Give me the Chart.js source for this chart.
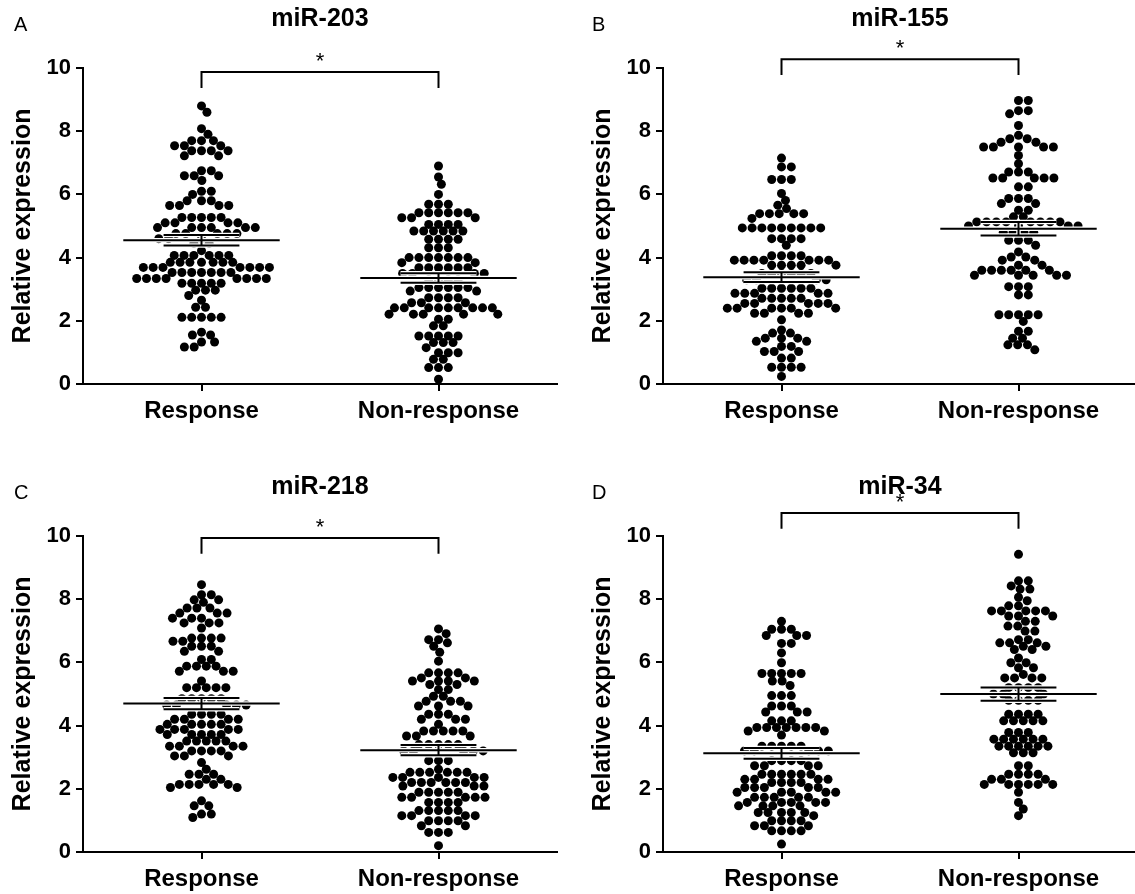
<!DOCTYPE html>
<html>
<head>
<meta charset="utf-8">
<script src="https://cdn.jsdelivr.net/npm/chart.js@4.4.0/dist/chart.umd.min.js"></script>
<style>
  body { margin: 0; background: #fff; width: 1135px; height: 894px; position: relative; overflow: hidden; font-family: Arial, "Liberation Sans", sans-serif; }
  .panel { position: absolute; width: 568px; height: 426px; }
  .tag { position: absolute; font-size: 20px; line-height: 20px; color: #000; }
</style>
</head>
<body>
<div class="panel" style="left:0;top:0"><canvas id="chart-a"></canvas></div>
<div class="panel" style="left:580px;top:0"><canvas id="chart-b"></canvas></div>
<div class="panel" style="left:0;top:468px"><canvas id="chart-c"></canvas></div>
<div class="panel" style="left:580px;top:468px"><canvas id="chart-d"></canvas></div>
<div class="tag" style="left:14px;top:14px">A</div>
<div class="tag" style="left:592px;top:14px">B</div>
<div class="tag" style="left:14px;top:482px">C</div>
<div class="tag" style="left:592px;top:482px">D</div>
<script>
const groupNames = ['Response', 'Non-response'];
const panelTitles = ['miR-203', 'miR-155', 'miR-218', 'miR-34'];
const sigLevels = [9.87, 10.28, 9.94, 10.73];
const sigMarks = ['*', '*', '*', '*'];

// relative expression per patient
const mir203Response = [8.8, 8.6, 8.08, 7.9, 7.7, 7.7, 7.7, 7.54, 7.54, 7.54, 7.38, 7.38, 7.38, 7.38, 7.22, 7.22,
  6.75, 6.75, 6.59, 6.59, 6.59, 6.44, 6.1, 6.1, 6.0, 5.8, 5.8, 5.8, 5.65, 5.65, 5.65, 5.65,
  5.27, 5.27, 5.27, 5.27, 5.27, 5.1, 5.1, 5.1, 5.1, 4.95, 4.95, 4.95, 4.95, 4.95, 4.95,
  4.76, 4.76, 4.76, 4.76, 4.76, 4.6, 4.6, 4.6, 4.45, 4.45, 4.22,
  4.07, 4.07, 4.07, 4.07, 4.07, 4.07, 3.85, 3.85, 3.85, 3.85, 3.85, 3.85, 3.85,
  3.69, 3.69, 3.69, 3.69, 3.69, 3.69, 3.69, 3.53, 3.53, 3.53, 3.53, 3.53, 3.53, 3.53,
  3.34, 3.34, 3.34, 3.34, 3.34, 3.34, 3.34, 3.34, 3.19, 3.19, 3.19, 3.19, 3.19,
  2.97, 2.97, 2.97, 2.8, 2.65, 2.43, 2.43, 2.11, 2.11, 2.11, 2.11, 2.11, 1.64, 1.55, 1.55, 1.33, 1.33, 1.17, 1.17];
const mir203NonResponse = [6.9, 6.55, 6.32, 6.0, 5.69, 5.69, 5.69, 5.42, 5.42, 5.42, 5.42, 5.42, 5.42,
  5.26, 5.26, 5.26, 5.05, 5.05, 5.05, 5.05, 4.84, 4.84, 4.84, 4.84, 4.84, 4.84, 4.58, 4.58, 4.58, 4.58,
  4.31, 4.31, 4.31, 4.0, 4.0, 4.0, 4.0, 4.0, 4.0, 4.0, 3.84, 3.84, 3.68, 3.68, 3.68, 3.68, 3.68, 3.68,
  3.5, 3.5, 3.5, 3.5, 3.3, 3.3, 3.3, 3.3, 3.05, 3.05, 3.05, 3.05, 3.05, 3.05, 2.94, 2.94,
  2.73, 2.73, 2.73, 2.73, 2.57, 2.57, 2.57, 2.41, 2.41, 2.41, 2.41, 2.41, 2.41, 2.41, 2.41, 2.41,
  2.21, 2.21, 2.21, 2.21, 2.21, 2.05, 2.05, 1.84, 1.84, 1.52, 1.52, 1.52, 1.52, 1.52, 1.31, 1.31, 1.31,
  1.15, 0.99, 0.99, 0.99, 0.78, 0.78, 0.52, 0.52, 0.52, 0.15];
const mir155Response = [7.15, 6.87, 6.87, 6.47, 6.47, 6.47, 6.03, 5.81, 5.66, 5.55, 5.39, 5.39, 5.39, 5.39, 5.39, 5.24,
  4.94, 4.94, 4.94, 4.94, 4.94, 4.94, 4.94, 4.94, 4.94, 4.6, 4.6, 4.6, 4.6, 4.39, 4.06, 4.06, 4.06, 4.06,
  3.92, 3.92, 3.92, 3.92, 3.92, 3.92, 3.92, 3.76, 3.76, 3.76, 3.76, 3.76, 3.5, 3.5, 3.5, 3.5, 3.5, 3.5,
  3.3, 3.3, 3.3, 3.3, 3.03, 3.03, 3.03, 3.03, 3.03, 3.03, 2.87, 2.87, 2.87, 2.87, 2.87,
  2.71, 2.71, 2.71, 2.71, 2.71, 2.55, 2.55, 2.55, 2.55, 2.55, 2.4, 2.4, 2.4, 2.4, 2.4, 2.4,
  2.24, 2.24, 2.24, 2.24, 2.03, 1.71, 1.61, 1.61, 1.45, 1.45, 1.45, 1.35, 1.35, 1.19, 1.19,
  1.03, 1.03, 1.03, 0.82, 0.82, 0.53, 0.53, 0.53, 0.53, 0.24];
const mir155NonResponse = [8.97, 8.97, 8.65, 8.65, 8.55, 8.18, 7.87, 7.76, 7.76, 7.65, 7.65, 7.5, 7.5, 7.5, 7.5, 7.5,
  7.23, 6.97, 6.71, 6.71, 6.71, 6.52, 6.52, 6.52, 6.52, 6.52, 6.24, 6.24, 5.87, 5.87, 5.87, 5.71, 5.71,
  5.5, 5.5, 5.29, 5.29, 5.13, 5.13, 5.13, 5.13, 5.13, 5.13, 5.13, 5.13, 5.0, 5.0, 5.0, 5.0, 4.8, 4.8, 4.8, 4.8,
  4.55, 4.55, 4.55, 4.39, 4.18, 4.02, 4.02, 3.92, 3.92, 3.76, 3.76,
  3.6, 3.6, 3.6, 3.6, 3.6, 3.6, 3.44, 3.44, 3.44, 3.44, 3.44,
  3.08, 3.08, 3.08, 2.82, 2.82, 2.19, 2.19, 2.19, 2.19, 2.19, 1.98, 1.67, 1.67, 1.45, 1.45, 1.24, 1.24, 1.24, 1.08];
const mir218Response = [8.46, 8.14, 8.14, 7.98, 7.98, 7.9, 7.72, 7.72, 7.72, 7.56, 7.56, 7.56, 7.4, 7.4, 7.4,
  7.25, 7.25, 7.25, 7.09, 6.77, 6.77, 6.77, 6.77, 6.67, 6.67, 6.51, 6.51, 6.51, 6.35, 6.35, 6.09, 6.09,
  5.88, 5.88, 5.88, 5.88, 5.72, 5.72, 5.72, 5.41, 5.2, 5.2, 5.2, 5.2, 5.2, 4.85, 4.85, 4.85, 4.85, 4.85,
  4.65, 4.65, 4.65, 4.65, 4.65, 4.36, 4.36, 4.36, 4.36, 4.2, 4.2, 4.2, 4.2,
  4.04, 4.04, 4.04, 4.04, 4.04, 3.88, 3.88, 3.88, 3.88, 3.88,
  3.72, 3.72, 3.72, 3.72, 3.72, 3.51, 3.51, 3.51, 3.51, 3.51, 3.35, 3.35, 3.35, 3.35,
  3.2, 3.2, 3.2, 3.2, 3.04, 3.04, 3.04, 2.83, 2.62, 2.46, 2.46, 2.46, 2.3, 2.3,
  2.14, 2.14, 2.14, 2.14, 2.14, 2.04, 2.04, 1.62, 1.46, 1.46, 1.2, 1.2, 1.09];
const mir218NonResponse = [7.06, 6.91, 6.72, 6.72, 6.62, 6.51, 6.32, 6.04, 5.67, 5.67, 5.67, 5.67, 5.51, 5.51,
  5.41, 5.41, 5.41, 5.41, 5.3, 5.3, 5.14, 5.14, 4.93, 4.93, 4.77, 4.77, 4.77, 4.62, 4.62, 4.62,
  4.36, 4.36, 4.36, 4.2, 4.2, 4.2, 4.04, 3.83, 3.83, 3.83, 3.83, 3.83, 3.67, 3.67, 3.67,
  3.4, 3.4, 3.4, 3.4, 3.4, 3.2, 3.2, 3.2, 3.2, 3.2, 2.89, 2.89, 2.89, 2.62,
  2.52, 2.52, 2.52, 2.52, 2.52, 2.52, 2.36, 2.36, 2.36, 2.36, 2.36, 2.2, 2.2, 2.2, 2.2, 2.2, 2.2,
  2.09, 2.09, 2.09, 1.89, 1.89, 1.89, 1.89, 1.89, 1.73, 1.73, 1.73, 1.73, 1.73, 1.57, 1.57, 1.57, 1.57,
  1.31, 1.31, 1.31, 1.31, 1.31, 1.15, 1.15, 1.15, 1.15, 0.99, 0.99, 0.99, 0.99, 0.83, 0.83,
  0.62, 0.62, 0.62, 0.2];
const mir34Response = [7.3, 7.05, 7.05, 7.05, 6.85, 6.85, 6.85, 6.6, 6.6, 6.3, 5.99, 5.65, 5.65, 5.65, 5.65, 5.65,
  5.41, 5.41, 5.27, 4.95, 4.95, 4.95, 4.62, 4.62, 4.62, 4.43, 4.43, 4.43, 4.15, 4.15, 4.15,
  3.94, 3.94, 3.94, 3.94, 3.94, 3.94, 3.94, 3.83, 3.83, 3.7, 3.35, 3.35, 3.35, 3.35, 3.35,
  3.2, 3.2, 3.2, 3.2, 3.2, 2.89, 2.89, 2.89, 2.89, 2.73, 2.73, 2.73, 2.73,
  2.46, 2.46, 2.46, 2.46, 2.46, 2.46, 2.3, 2.3, 2.3, 2.3, 2.2, 2.2, 2.2, 2.2, 2.04, 2.04, 2.04, 2.04, 2.04,
  1.89, 1.89, 1.89, 1.89, 1.89, 1.73, 1.73, 1.73, 1.73, 1.73, 1.57, 1.57, 1.57, 1.57, 1.57,
  1.46, 1.46, 1.46, 1.46, 1.25, 1.25, 1.25, 1.25, 1.25, 1.15, 0.99, 0.99, 0.99, 0.99,
  0.83, 0.83, 0.83, 0.67, 0.67, 0.67, 0.67, 0.25];
const mir34NonResponse = [9.42, 8.58, 8.58, 8.42, 8.32, 8.32, 8.06, 7.95, 7.79, 7.79, 7.63, 7.63, 7.63, 7.63, 7.63,
  7.47, 7.47, 7.47, 7.3, 7.3, 7.15, 7.15, 6.99, 6.99, 6.72, 6.72, 6.62, 6.62, 6.62, 6.51, 6.51, 6.41, 6.41,
  6.14, 5.99, 5.99, 5.83, 5.83, 5.62, 5.51, 5.51, 5.51, 5.51, 5.2, 5.2, 5.2, 5.2, 5.0, 5.0, 5.0,
  4.8, 4.8, 4.8, 4.8, 4.36, 4.36, 4.36, 4.36, 4.15, 4.15, 4.15, 4.15, 4.15, 3.78, 3.78, 3.78,
  3.57, 3.57, 3.57, 3.57, 3.57, 3.57, 3.35, 3.35, 3.35, 3.35, 3.35, 3.35, 3.14, 3.14, 3.14,
  2.73, 2.73, 2.46, 2.46, 2.46, 2.46, 2.3, 2.3, 2.3, 2.14, 2.14, 2.14, 2.14, 2.14, 2.14,
  1.89, 1.57, 1.36, 1.15];

const FONT = 'Arial, "Liberation Sans", sans-serif';
Chart.defaults.font.family = FONT;
Chart.defaults.color = '#000';

// plot area is 474 x 316 px for x 0.5..2.5 and y 0..10
const PX_PER_X = 237;
const PX_PER_Y = 31.6;
const DOT = 9.8;      // spacing of dots within a row
const ROW = 7.6;      // dots further apart than this vertically may share a column

// beeswarm: each dot goes to the free spot nearest the column centre
function swarm(values, centre) {
  const placed = [];
  const hits = (x, y) => placed.some(p => ((p.x - x) / DOT) ** 2 + ((p.y - y) / ROW) ** 2 < 0.999);
  return values.slice().sort((a, b) => b - a).map(v => {
    const py = v * PX_PER_Y;
    const cands = [0];
    placed.forEach(p => {
      const dy = py - p.y;
      if (Math.abs(dy) < ROW) {
        const dx = DOT * Math.sqrt(1 - (dy / ROW) ** 2);
        cands.push(p.x + dx, p.x - dx);
      }
    });
    cands.sort((a, b) => Math.abs(a) - Math.abs(b) || b - a);
    const px = cands.find(c => !hits(c, py)) || 0;
    placed.push({ x: px, y: py });
    return { x: centre + px / PX_PER_X, y: v };
  });
}

function meanSem(vals) {
  const n = vals.length;
  const m = vals.reduce((a, b) => a + b, 0) / n;
  const sd = Math.sqrt(vals.reduce((a, b) => a + (b - m) ** 2, 0) / (n - 1));
  return [m, sd / Math.sqrt(n)];
}

// mean bar, sem caps and the stem joining them
function meanLines(groups) {
  const pts = [];
  groups.forEach((vals, i) => {
    const c = i + 1;
    const [m, s] = meanSem(vals);
    pts.push({ x: c - 0.33, y: m }, { x: c + 0.33, y: m }, { x: c, y: null },
      { x: c - 0.16, y: m + s }, { x: c + 0.16, y: m + s }, { x: c, y: null },
      { x: c - 0.16, y: m - s }, { x: c + 0.16, y: m - s }, { x: c, y: null },
      { x: c, y: m - s }, { x: c, y: m + s }, { x: c, y: null });
  });
  return pts;
}

const starPlugin = {
  id: 'star',
  afterDatasetsDraw(chart, args, opts) {
    const { ctx, scales: { x, y } } = chart;
    ctx.save();
    ctx.font = '22px ' + FONT;
    ctx.fillStyle = '#000';
    ctx.textAlign = 'center';
    ctx.textBaseline = 'alphabetic';
    ctx.fillText(opts.text, x.getPixelForValue(1.5), y.getPixelForValue(opts.level) - 4);
    ctx.restore();
  }
};

function makePanel(id, title, resp, nonResp, level, mark) {
  const lines = meanLines([resp, nonResp]);
  new Chart(document.getElementById(id), {
    type: 'scatter',
    data: {
      datasets: [{
        type: 'line',
        data: lines,
        borderColor: '#000',
        borderWidth: 2,
        pointRadius: 0,
        spanGaps: false
      }, {
        type: 'line',
        data: lines,
        borderColor: '#fff',
        borderWidth: 4.5,
        pointRadius: 0,
        spanGaps: false
      }, {
        type: 'line',
        data: [{ x: 1, y: level - 0.5 }, { x: 1, y: level }, { x: 2, y: level }, { x: 2, y: level - 0.5 }],
        borderColor: '#000',
        borderWidth: 2,
        pointRadius: 0,
        clip: false
      }, {
        data: swarm(resp, 1),
        backgroundColor: '#000',
        pointRadius: 4.5,
        borderWidth: 0
      }, {
        data: swarm(nonResp, 2),
        backgroundColor: '#000',
        pointRadius: 4.5,
        borderWidth: 0
      }]
    },
    options: {
      animation: false,
      events: [],
      responsive: true,
      maintainAspectRatio: false,
      layout: { padding: { right: 11 } },
      scales: {
        x: {
          type: 'linear',
          min: 0.5,
          max: 2.5,
          afterBuildTicks: axis => { axis.ticks = [{ value: 1 }, { value: 2 }]; },
          afterFit: axis => { axis.height = 42; },
          ticks: {
            callback: v => groupNames[v - 1],
            font: { size: 24, weight: 'bold' },
            color: '#000',
            padding: 6
          },
          grid: { drawOnChartArea: false, drawTicks: true, tickLength: 7, color: '#000', lineWidth: 2 },
          border: { display: true, color: '#000', width: 2 }
        },
        y: {
          min: 0,
          max: 10,
          afterFit: axis => { axis.width = 83; },
          ticks: {
            stepSize: 2,
            font: { size: 22, weight: 'bold' },
            color: '#000',
            padding: 5
          },
          title: {
            display: true,
            text: 'Relative expression',
            font: { size: 25, weight: 'bold' },
            color: '#000',
            padding: { top: 8, bottom: 0 }
          },
          grid: { drawOnChartArea: false, drawTicks: true, tickLength: 7, color: '#000', lineWidth: 2 },
          border: { display: true, color: '#000', width: 2 }
        }
      },
      plugins: {
        legend: { display: false },
        tooltip: { enabled: false },
        title: {
          display: true,
          text: title,
          fullSize: false,
          font: { size: 25, weight: 'bold' },
          color: '#000',
          padding: { top: 4, bottom: 34 }
        },
        star: { text: mark, level: level }
      }
    },
    plugins: [starPlugin]
  });
}

makePanel('chart-a', panelTitles[0], mir203Response, mir203NonResponse, sigLevels[0], sigMarks[0]);
makePanel('chart-b', panelTitles[1], mir155Response, mir155NonResponse, sigLevels[1], sigMarks[1]);
makePanel('chart-c', panelTitles[2], mir218Response, mir218NonResponse, sigLevels[2], sigMarks[2]);
makePanel('chart-d', panelTitles[3], mir34Response, mir34NonResponse, sigLevels[3], sigMarks[3]);
</script>
</body>
</html>
